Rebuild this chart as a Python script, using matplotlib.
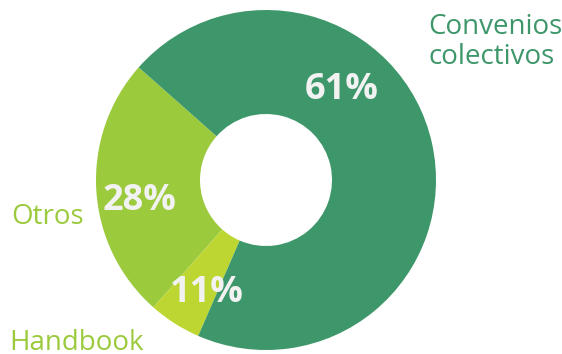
import matplotlib
matplotlib.use('Agg')
import matplotlib.pyplot as plt

# slices (Otros, Handbook, Convenios colectivos)
categories = ['Otros', 'Handbook', 'Convenios\ncolectivos']
shares = [25, 5, 70]
pct_labels = ['28%', '11%', '61%']
colors = ['#9bca3c', '#bdd631', '#3e976a']

plt.rcParams['font.family'] = ['Open Sans', 'DejaVu Sans']

fig = plt.figure(figsize=(5.62, 3.54), dpi=100)
ax = fig.add_axes([0, 0, 1, 1])
ax.set_xlim(0, 562)
ax.set_ylim(0, 354)
ax.axis('off')

ax.pie(shares, colors=colors, startangle=138.5, counterclock=True,
       center=(266, 174), radius=170, frame=True,
       wedgeprops=dict(width=104, linewidth=0))
ax.set_xlim(0, 562)
ax.set_ylim(0, 354)
ax.axis('off')

# percentage labels
pct_pos = [(140, 153), (207, 61), (342, 264)]
for txt, (x, y) in zip(pct_labels, pct_pos):
    ax.text(x, y, txt, color='#f2f2f2', fontsize=26, fontweight='bold',
            ha='center', va='center')

# category labels
ax.text(11, 130, categories[0], color=colors[0], fontsize=20,
        ha='left', va='baseline')
ax.text(9, 4, categories[1], color=colors[0], fontsize=20,
        ha='left', va='baseline')
ax.text(428, 290, categories[2], color=colors[2], fontsize=20,
        ha='left', va='baseline', linespacing=1.1)

plt.savefig('out.png', dpi=100)
